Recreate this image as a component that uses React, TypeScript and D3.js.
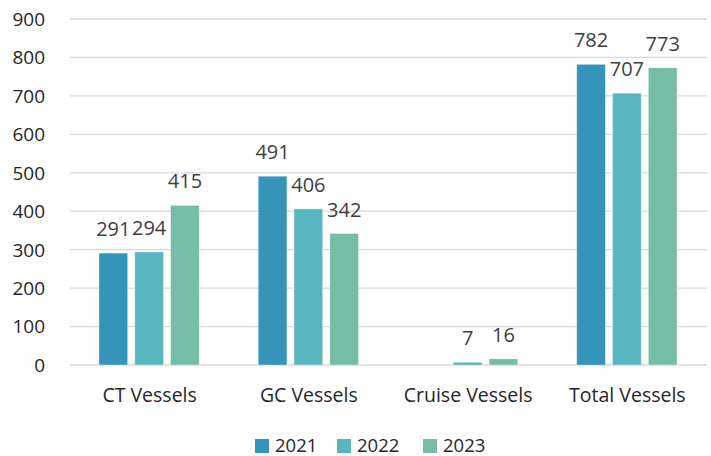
import React from 'react';
import * as d3 from 'd3';

const categories = ['CT Vessels', 'GC Vessels', 'Cruise Vessels', 'Total Vessels'];
const years = ['2021', '2022', '2023'];
const values2021: (number | null)[] = [291, 491, null, 782];
const values2022: (number | null)[] = [294, 406, 7, 707];
const values2023: (number | null)[] = [415, 342, 16, 773];
const yTicks = [0, 100, 200, 300, 400, 500, 600, 700, 800, 900];

const colors = ['#3494BA', '#58B6C0', '#75BDA7'];
const series = [values2021, values2022, values2023];

const W = 711;
const H = 456;
const FONT = '"Open Sans", sans-serif';

const App = () => {
	const left = 70;
	const right = 707;
	const top = 19;
	const bottom = 365;

	const x0 = d3.scaleBand<string>().domain(categories).range([left, right]);
	const x1 = d3
		.scaleBand<string>()
		.domain(years)
		.range([29, x0.bandwidth() - 30])
		.paddingInner(0.2);
	const y = d3.scaleLinear().domain([0, 900]).range([bottom, top]);

	const legendX = [255, 337, 423];

	return (
		<svg width={W} height={H} style={{ position: 'absolute', left: 0, top: 0, background: '#fff' }}>
			{yTicks.map((t) => (
				<g key={t}>
					<line x1={left} x2={right} y1={y(t)} y2={y(t)} stroke="#D9D9D9" strokeWidth={1.3} />
					<text
						x={45}
						y={y(t)}
						dy="0.36em"
						textAnchor="end"
						fontFamily={FONT}
						fontSize={19}
						fill="#262626"
					>
						{t}
					</text>
				</g>
			))}
			{categories.map((c, ci) => (
				<g key={c} transform={'translate(' + x0(c) + ',0)'}>
					{series.map((s, si) => {
						const v = s[ci];
						if (v === null) return null;
						const bx = x1(years[si]) as number;
						return (
							<g key={si}>
								<rect
									x={bx}
									y={y(v)}
									width={x1.bandwidth()}
									height={bottom - y(v)}
									fill={colors[si]}
									stroke="#fff"
									strokeOpacity={0.4}
									strokeWidth={0.8}
								/>
								<text
									x={bx + x1.bandwidth() / 2}
									y={y(v) - 17}
									textAnchor="middle"
									fontFamily={FONT}
									fontSize={20}
									fill="#404040"
								>
									{v}
								</text>
							</g>
						);
					})}
					<text
						x={x0.bandwidth() / 2}
						y={402}
						textAnchor="middle"
						fontFamily={FONT}
						fontSize={19.5}
						fill="#262626"
					>
						{c}
					</text>
				</g>
			))}
			{years.map((yr, i) => (
				<g key={yr}>
					<rect x={legendX[i]} y={439} width={14} height={14} fill={colors[i]} />
					<text x={legendX[i] + 20} y={452} fontFamily={FONT} fontSize={18.5} fill="#262626">
						{yr}
					</text>
				</g>
			))}
		</svg>
	);
};

export default App;
